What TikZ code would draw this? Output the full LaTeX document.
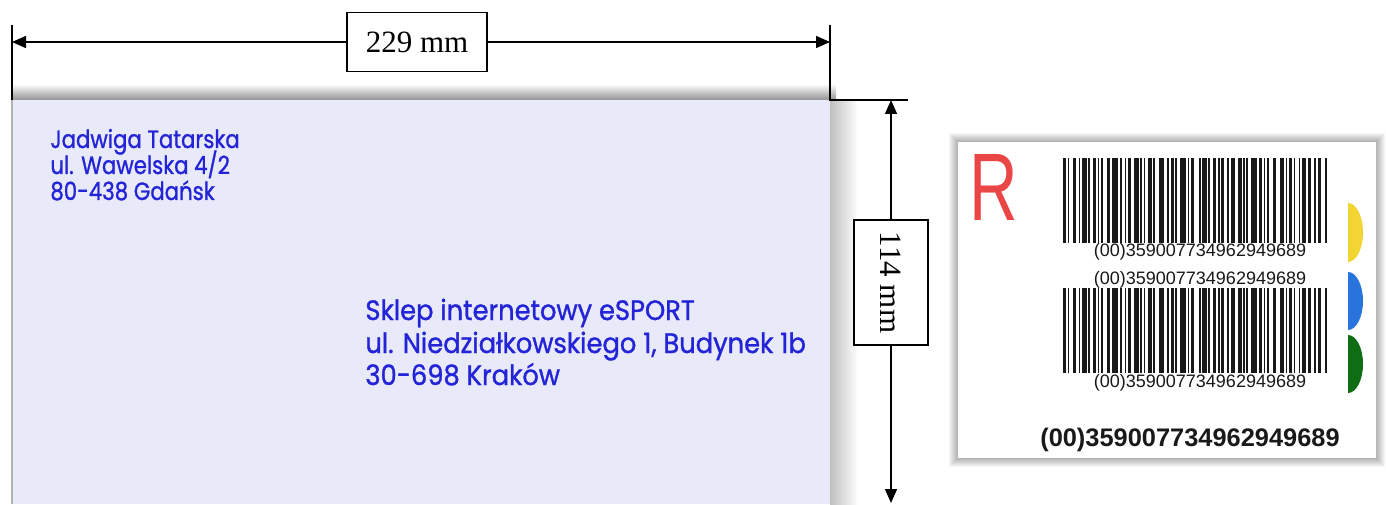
\documentclass[tikz,border=0pt]{standalone}
\usepackage{fontspec}
\setmainfont{Liberation Serif}
\newfontfamily\handf[FakeBold=1.2]{Poppins}
\newfontfamily\arialf{Liberation Sans}
\usetikzlibrary{arrows.meta}
\definecolor{envcol}{RGB}{232,234,249}
\definecolor{inkblue}{RGB}{35,35,215}
\definecolor{rred}{RGB}{235,70,70}
\definecolor{yel}{RGB}{242,212,50}
\definecolor{blu}{RGB}{40,115,220}
\definecolor{grn}{RGB}{15,110,20}
\definecolor{barcol}{RGB}{25,25,25}
\newcommand\mybars[3]{%
  \begin{scope}[shift={(#1,#2)},xscale=264/167]
    \gdef\bcx{0}%
    \foreach \w/\s in {2/1,1/2,2/2,1/1,3/1,1/2,2/1,1/1,1/3,2/1,4/1,1/2,1/1,2/2,3/1,1/1,1/2,2/1,1/3,3/2,1/1,2/1,1/2,4/1,1/1,2/3,1/1,3/1,1/2,2/1,1/1,2/2,1/1,3/2,2/1,1/1,1/2,4/1,2/1,1/1,1/3,2/2,3/1,1/1,2/1,1/2,1/1,3/1,2/2,1/1,2/3,1/1}{%
      \fill[barcol] (\bcx,0) rectangle ++(\w,#3);
      \pgfmathsetmacro\bctmp{\bcx+\w+\s}%
      \global\let\bcx\bctmp
    }%
  \end{scope}}
\begin{document}
\begin{tikzpicture}[x=0.5pt,y=0.5pt,
  dimline/.style={line width=0.75pt,-{Triangle[length=7pt,width=6pt]}},
  extline/.style={line width=0.75pt},
  dimbox/.style={draw,line width=0.75pt,fill=white,inner sep=0pt,font=\fontsize{15.5}{18}\selectfont},
  sender/.style={anchor=base west,inner sep=0pt,text=inkblue,font=\handf\fontsize{12.5}{15}\selectfont},
  recip/.style={anchor=base west,inner sep=0pt,text=inkblue,font=\handf\fontsize{14}{17}\selectfont},
  smallcode/.style={inner sep=0pt,font=\arialf\fontsize{9}{10}\selectfont,text=barcol},
  halfdisc/.style={draw=none}
]
\useasboundingbox (0,0) rectangle (1386,504);
\fill[white] (0,0) rectangle (1386,504);
% envelope shadows
\shade[top color=white,bottom color=gray!85] (12,404) rectangle (836,420);
\shade[left color=gray!50,right color=white] (830,0) rectangle (858,404);
% envelope
\fill[envcol] (12,0) rectangle (830,404);
\draw[gray!60,line width=0.6pt] (12,0) -- (12,404);
% horizontal dimension
\coordinate (dimL) at (12,462);
\coordinate (dimR) at (830,462);
\draw[extline] (12,479) -- (12,404);
\draw[extline] (830,479) -- (830,404) -- (908,404);
\node[dimbox,minimum width=70pt,minimum height=29.5pt] (box229) at (417,462) {229 mm};
\draw[dimline] (box229) -- (dimL);
\draw[dimline] (box229) -- (dimR);
% vertical dimension
\coordinate (dimT) at (891,404);
\coordinate (dimB) at (891,1);
\node[dimbox,rotate=-90,minimum width=62.5pt,minimum height=37pt] (box114) at (891,221.5) {114 mm};
\draw[dimline] (box114) -- (dimT);
\draw[dimline] (box114) -- (dimB);
% sender
\node[sender] (s1) at (50,356) {\scalebox{0.85}[1]{Jadwiga Tatarska}};
\node[sender] (s2) at (50,330) {\scalebox{0.85}[1]{ul. Wawelska 4/2}};
\node[sender] (s3) at (50,304) {\scalebox{0.85}[1]{80-438 Gdańsk}};
% recipient
\node[recip] (r1) at (365,184) {\scalebox{0.92}[1]{Sklep internetowy eSPORT}};
\node[recip] (r2) at (365,151) {\scalebox{0.92}[1]{ul. Niedziałkowskiego 1, Budynek 1b}};
\node[recip] (r3) at (365,119) {\scalebox{0.92}[1]{30-698 Kraków}};
% label card with shadow
\foreach \i in {1,...,9}{\fill[black,opacity=0.035] (958-\i,46-\i) rectangle (1376+\i,362+\i);}
\fill[white] (958,46) rectangle (1376,362);
\node[inner sep=0pt,text=rred,font=\arialf\fontsize{48}{50}\selectfont] (rr) at (994,317) {\scalebox{0.7}[1]{R}};
\mybars{1063}{261}{85}
\mybars{1063}{131}{85}
\node[smallcode] (c1) at (1200,252) {(00)359007734962949689};
\node[smallcode] (c2) at (1200,224) {(00)359007734962949689};
\node[smallcode] (c3) at (1200,121) {(00)359007734962949689};
\node[inner sep=0pt,text=barcol,font=\arialf\bfseries\fontsize{12.7}{14}\selectfont] (c4) at (1190,64) {(00)359007734962949689};
% coloured half discs
\fill[yel] (1348,301) arc[start angle=90,end angle=-90,x radius=15,y radius=29.5] -- cycle;
\fill[blu] (1348,232) arc[start angle=90,end angle=-90,x radius=15,y radius=29] -- cycle;
\fill[grn] (1348,169) arc[start angle=90,end angle=-90,x radius=15,y radius=29] -- cycle;
\end{tikzpicture}
\end{document}
